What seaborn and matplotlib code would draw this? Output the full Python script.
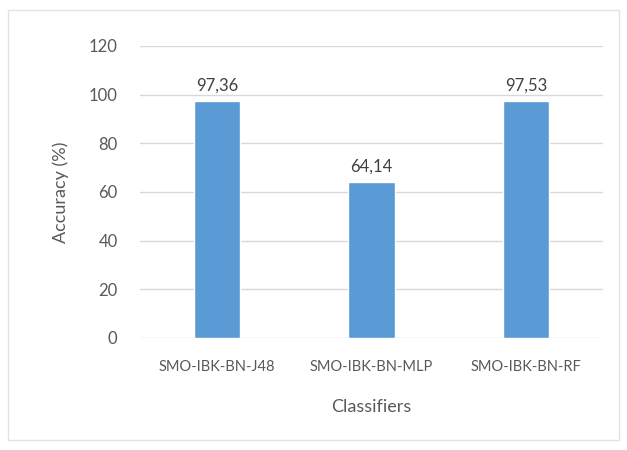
import matplotlib
matplotlib.use("Agg")
import matplotlib.pyplot as plt
import seaborn as sns
import pandas as pd
from matplotlib.patches import Rectangle

classifiers = ["SMO-IBK-BN-J48", "SMO-IBK-BN-MLP", "SMO-IBK-BN-RF"]
accuracy = [97.36, 64.14, 97.53]
value_labels = ["97,36", "64,14", "97,53"]
y_ticks = [0, 20, 40, 60, 80, 100, 120]

sns.set_theme(style="white")
plt.rcParams["font.family"] = ["Lato", "DejaVu Sans"]

text_color = "#595959"
bar_color = "#5B9BD5"
grid_color = "#D9D9D9"

df = pd.DataFrame({"Classifier": classifiers, "Accuracy": accuracy})

fig = plt.figure(figsize=(6.27, 4.5), dpi=100)
fig.patch.set_facecolor("white")
# thin chart-area frame
fig.add_artist(Rectangle((0.013, 0.022), 0.975, 0.955, transform=fig.transFigure,
                         fill=False, edgecolor="#E3E3E3", linewidth=1.0))

ax = fig.add_axes([0.223, 0.249, 0.739, 0.649])
sns.barplot(data=df, x="Classifier", y="Accuracy", color=bar_color,
            width=0.3, saturation=1, ax=ax, zorder=3)

ax.set_ylim(0, 120)
ax.set_yticks(y_ticks)
ax.set_xlim(-0.5, 2.5)
for t in y_ticks:
    ax.axhline(t, color=grid_color, linewidth=1.0, zorder=1)

for i, (v, lab) in enumerate(zip(accuracy, value_labels)):
    ax.text(i, v + 3, lab, ha="center", va="bottom", fontsize=12, color="#404040")

for side in ["top", "right", "left", "bottom"]:
    ax.spines[side].set_visible(False)

ax.tick_params(axis="y", labelsize=12, colors=text_color, length=0, pad=16)
ax.tick_params(axis="x", labelsize=10.5, colors=text_color, length=0, pad=16)
ax.set_xlabel("Classifiers", fontsize=13, color=text_color, labelpad=18)
ax.set_ylabel("Accuracy (%)", fontsize=13, color=text_color, labelpad=14)

fig.savefig("out.png", dpi=100, facecolor="white")
